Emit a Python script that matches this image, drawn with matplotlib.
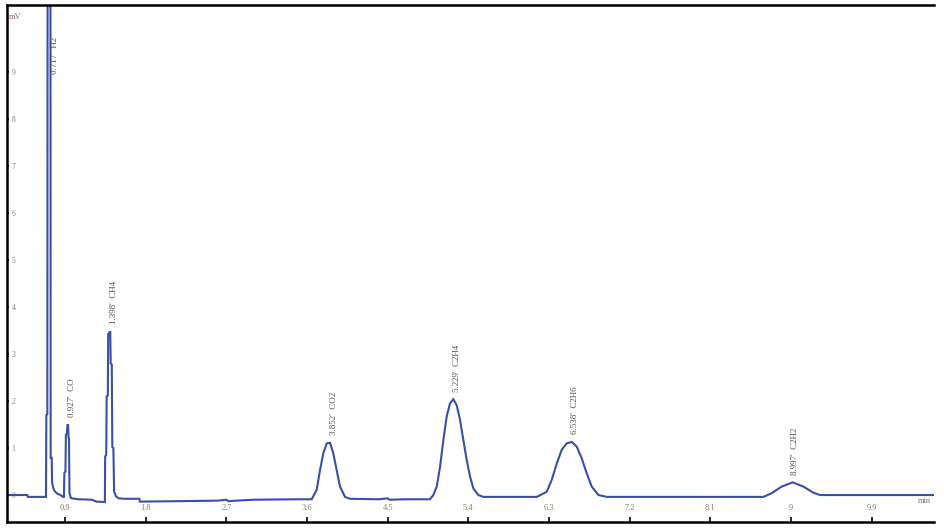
import matplotlib
matplotlib.use('Agg')
import matplotlib.pyplot as plt

# chromatogram trace (time in min, signal in mV)
time_min = [
    0.253, 0.480, 0.485, 0.688, 0.692, 0.703, 0.706, 0.730, 0.738, 0.740,
    0.752, 0.756, 0.770, 0.790, 0.815, 0.850, 0.878,
    0.888, 0.893, 0.905, 0.910, 0.922, 0.927, 0.935, 0.940, 0.945, 0.950,
    0.965, 0.975, 1.050, 1.200, 1.250, 1.345,
    1.348, 1.360, 1.365, 1.378, 1.382, 1.398, 1.405, 1.410, 1.422, 1.428,
    1.440, 1.448, 1.470, 1.500, 1.560, 1.730, 1.735,
    2.200, 2.600, 2.700, 2.720, 3.000, 3.500, 3.652,
    3.708, 3.745, 3.782, 3.820, 3.857, 3.893, 3.931, 3.968, 4.024, 4.080,
    4.400, 4.500, 4.520, 4.700, 4.972,
    5.009, 5.047, 5.084, 5.121, 5.158, 5.195, 5.232, 5.270, 5.307, 5.344,
    5.382, 5.419, 5.456, 5.511, 5.567, 5.900, 6.163,
    6.274, 6.330, 6.386, 6.441, 6.497, 6.553, 6.609, 6.665, 6.721, 6.776,
    6.851, 6.944, 7.500, 8.200, 8.691,
    8.784, 8.896, 9.018, 9.137, 9.249, 9.323, 10.000, 10.584,
]
signal_mv = [
    0.00, 0.00, -0.04, -0.04, 1.70, 1.72, 11.50, 11.50, 11.50, 0.79,
    0.79, 0.27, 0.14, 0.07, 0.03, 0.00, -0.04,
    -0.04, 0.47, 0.50, 1.28, 1.32, 1.49, 1.49, 1.22, 1.20, 0.04,
    -0.06, -0.07, -0.09, -0.10, -0.14, -0.15,
    0.82, 0.85, 2.10, 2.12, 3.42, 3.47, 3.47, 2.80, 2.78, 1.02,
    1.00, 0.07, -0.03, -0.07, -0.08, -0.08, -0.14,
    -0.13, -0.12, -0.10, -0.13, -0.10, -0.09, -0.09,
    0.11, 0.53, 0.89, 1.10, 1.11, 0.89, 0.53, 0.18, -0.04, -0.08,
    -0.09, -0.07, -0.10, -0.09, -0.09,
    0.00, 0.18, 0.60, 1.17, 1.67, 1.95, 2.04, 1.91, 1.60, 1.17,
    0.74, 0.39, 0.14, 0.00, -0.04, -0.04, -0.04,
    0.07, 0.32, 0.67, 0.96, 1.10, 1.13, 1.03, 0.78, 0.46, 0.18,
    0.00, -0.04, -0.04, -0.04, -0.04,
    0.04, 0.18, 0.27, 0.18, 0.05, 0.00, 0.00, 0.00,
]

# peak labels
peak_times = [0.717, 0.927, 1.398, 3.852, 5.229, 6.538, 8.997]
peak_label_y = [8.80, 1.49, 3.47, 1.11, 2.04, 1.13, 0.27]
peak_names = ["H2", "CO", "CH4", "CO2", "C2H4", "C2H6", "C2H2"]

x_ticks = [0.9, 1.8, 2.7, 3.6, 4.5, 5.4, 6.3, 7.2, 8.1, 9.0, 9.9]
x_tick_labels = ["0.9", "1.8", "2.7", "3.6", "4.5", "5.4", "6.3", "7.2", "8.1", "9", "9.9"]
y_ticks = [0, 1, 2, 3, 4, 5, 6, 7, 8, 9]
y_tick_labels = ["0", "1", "2", "3", "4", "5", "6", "7", "8", "9"]

plt.rcParams['font.family'] = ['Liberation Serif', 'DejaVu Serif']

fig = plt.figure(figsize=(9.45, 5.32), dpi=100)
ax = fig.add_axes([0.0074, 0.0188, 0.981, 0.9718])

ax.plot(time_min, signal_mv, color='#3a4fa6', linewidth=1.5, solid_joinstyle='miter')

for t, y, name in zip(peak_times, peak_label_y, peak_names):
    dx = 4.5 if name == "H2" else 3.2
    ax.annotate("%.3f'  %s" % (t, name), xy=(t, y), xytext=(dx, 5.5),
                textcoords='offset points', rotation=90, ha='center', va='bottom',
                fontsize=6.5, color='#505050')

ax.set_xlim(0.253, 10.595)
ax.set_ylim(-0.574, 10.43)

ax.set_xticks(x_ticks)
ax.set_xticklabels(x_tick_labels)
ax.set_yticks(y_ticks)
ax.set_yticklabels(y_tick_labels)
ax.tick_params(axis='x', direction='in', length=3.5, width=1.2, pad=-13,
               labelsize=6, labelcolor='#8a7a62')
ax.tick_params(axis='y', direction='in', length=1.5, width=1.2, pad=-6,
               labelsize=5.5, labelcolor='#8a7a62')

for side in ['left', 'top', 'bottom']:
    ax.spines[side].set_linewidth(1.8)
ax.spines['right'].set_visible(False)

ax.text(0.002, 0.985, 'mV', transform=ax.transAxes, ha='left', va='top',
        fontsize=6, color='#8a6a62')
ax.text(0.997, 0.04, 'min', transform=ax.transAxes, ha='right', va='center',
        fontsize=6, color='#8a6a62')

fig.savefig('out.png', dpi=100)
